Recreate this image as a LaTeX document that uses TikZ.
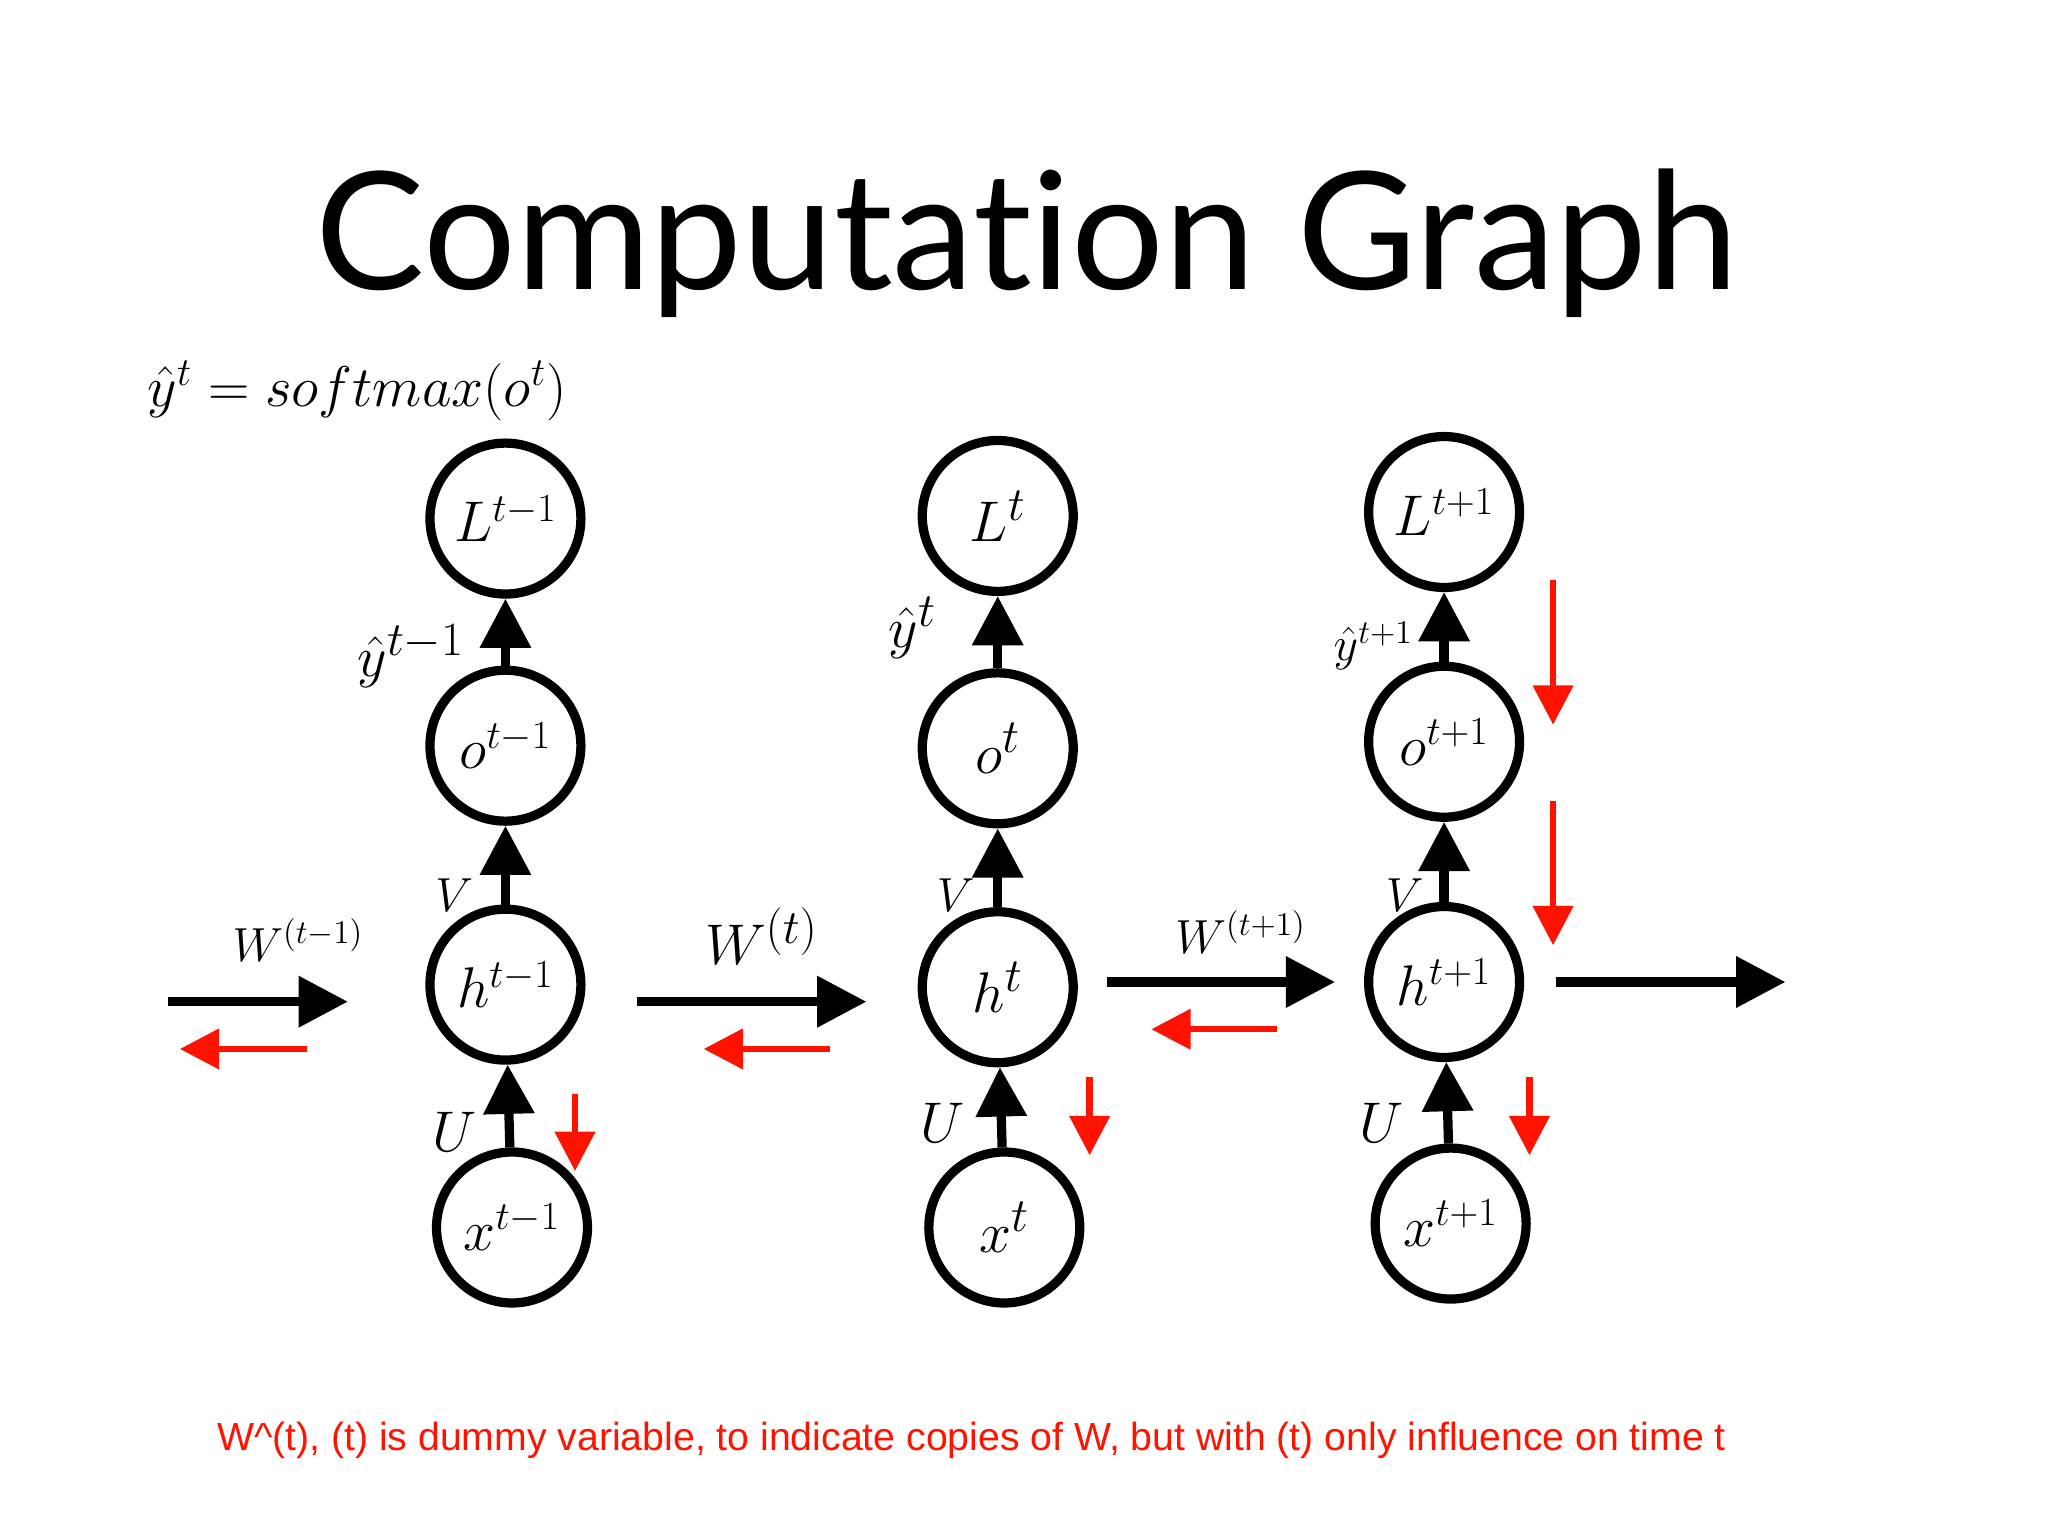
\documentclass[tikz,border=0pt]{standalone}
\usepackage{fontspec}
\newfontfamily\titlefont[Ligatures=NoCommon]{Lato}
\newfontfamily\notefont{Liberation Sans}
\usetikzlibrary{arrows.meta}
\begin{document}
\begin{tikzpicture}[x=0.02cm,y=-0.02cm,
  nd/.style={circle,draw,line width=4pt,minimum size=2.3cm,inner sep=0pt,font=\fontsize{24}{26}\selectfont},
  ndb/.style={nd,font=\fontsize{30}{32}\selectfont},
  bk/.style={line width=4pt,-{Triangle[length=0.75cm,width=0.75cm]}},
  rd/.style={line width=2.8pt,red!85!orange,-{Triangle[length=0.6cm,width=0.6cm]}},
  lb/.style={font=\fontsize{22}{24}\selectfont},
  lbb/.style={font=\fontsize{30}{32}\selectfont}]
\useasboundingbox (0,0) rectangle (1560,1170);
\node[font=\titlefont\fontsize{71}{76}\selectfont] (title) at (782,185) {Computation Graph};
\node[font=\fontsize{24}{26}\selectfont] (eq) at (272,298) {$\hat y^t = softmax(o^t)$};
% column 1
\node[nd] (L1) at (385,395) {$L^{t-1}$};
\node[nd] (o1) at (385,568) {$o^{t-1}$};
\node[nd] (h1) at (385,750) {$h^{t-1}$};
\node[nd] (x1) at (390,935) {$x^{t-1}$};
% column 2
\node[ndb] (L2) at (760,393) {$L^t$};
\node[ndb] (o2) at (760,570) {$o^t$};
\node[ndb] (h2) at (760,752) {$h^t$};
\node[ndb] (x2) at (765,935) {$x^t$};
% column 3
\node[nd] (L3) at (1100,390) {$L^{t+1}$};
\node[nd] (o3) at (1100,565) {$o^{t+1}$};
\node[nd] (h3) at (1100,748) {$h^{t+1}$};
\node[nd] (x3) at (1105,932) {$x^{t+1}$};
\foreach \c in {1,2,3}{
  \draw[bk] (x\c) -- (h\c);
  \draw[bk] (h\c) -- (o\c);
  \draw[bk] (o\c) -- (L\c);
}
% horizontal
\coordinate (a0) at (128,763); \coordinate (a1) at (265,763);
\coordinate (b0) at (485,763); \coordinate (b1) at (660,763);
\coordinate (c0) at (843,748); \coordinate (c1) at (1017,748);
\coordinate (d0) at (1185,748); \coordinate (d1) at (1360,748);
\draw[bk] (a0) -- (a1);
\draw[bk] (b0) -- (b1);
\draw[bk] (c0) -- (c1);
\draw[bk] (d0) -- (d1);
% red
\coordinate (r1a) at (234,799); \coordinate (r1b) at (137,799);
\coordinate (r2a) at (632,799); \coordinate (r2b) at (536,799);
\coordinate (r3a) at (973,784); \coordinate (r3b) at (877,784);
\draw[rd] (r1a) -- (r1b);
\draw[rd] (r2a) -- (r2b);
\draw[rd] (r3a) -- (r3b);
\coordinate (s1a) at (438,833); \coordinate (s1b) at (438,892);
\coordinate (s2a) at (830,820); \coordinate (s2b) at (830,880);
\coordinate (s3a) at (1165,820); \coordinate (s3b) at (1165,880);
\coordinate (s4a) at (1183,442); \coordinate (s4b) at (1183,552);
\coordinate (s5a) at (1183,610); \coordinate (s5b) at (1183,720);
\foreach \s in {1,...,5}{\draw[rd] (s\s a) -- (s\s b);}
% labels
\node[lb] (w1) at (227,716) {$W^{(t-1)}$};
\node[lbb] (w2) at (580,713) {$W^{(t)}$};
\node[lb] (w3) at (945,710) {$W^{(t+1)}$};
\node[lb] (v1) at (346,682) {$V$};
\node[lb] (v2) at (728,682) {$V$};
\node[lb] (v3) at (1070,682) {$V$};
\node[lbb] (u1) at (346,862) {$U$};
\node[lbb] (u2) at (718,855) {$U$};
\node[lbb] (u3) at (1052,855) {$U$};
\node[lbb] (y1) at (313,500) {$\hat y^{t-1}$};
\node[lbb] (y2) at (695,478) {$\hat y^t$};
\node[lb] (y3) at (1046,492) {$\hat y^{t+1}$};
\node[font=\notefont\fontsize{17}{19}\selectfont,text=red!85!orange] (note) at (740,1097) {W\textasciicircum(t), (t) is dummy variable, to indicate copies of W, but with (t) only influence on time t};
\end{tikzpicture}
\end{document}
